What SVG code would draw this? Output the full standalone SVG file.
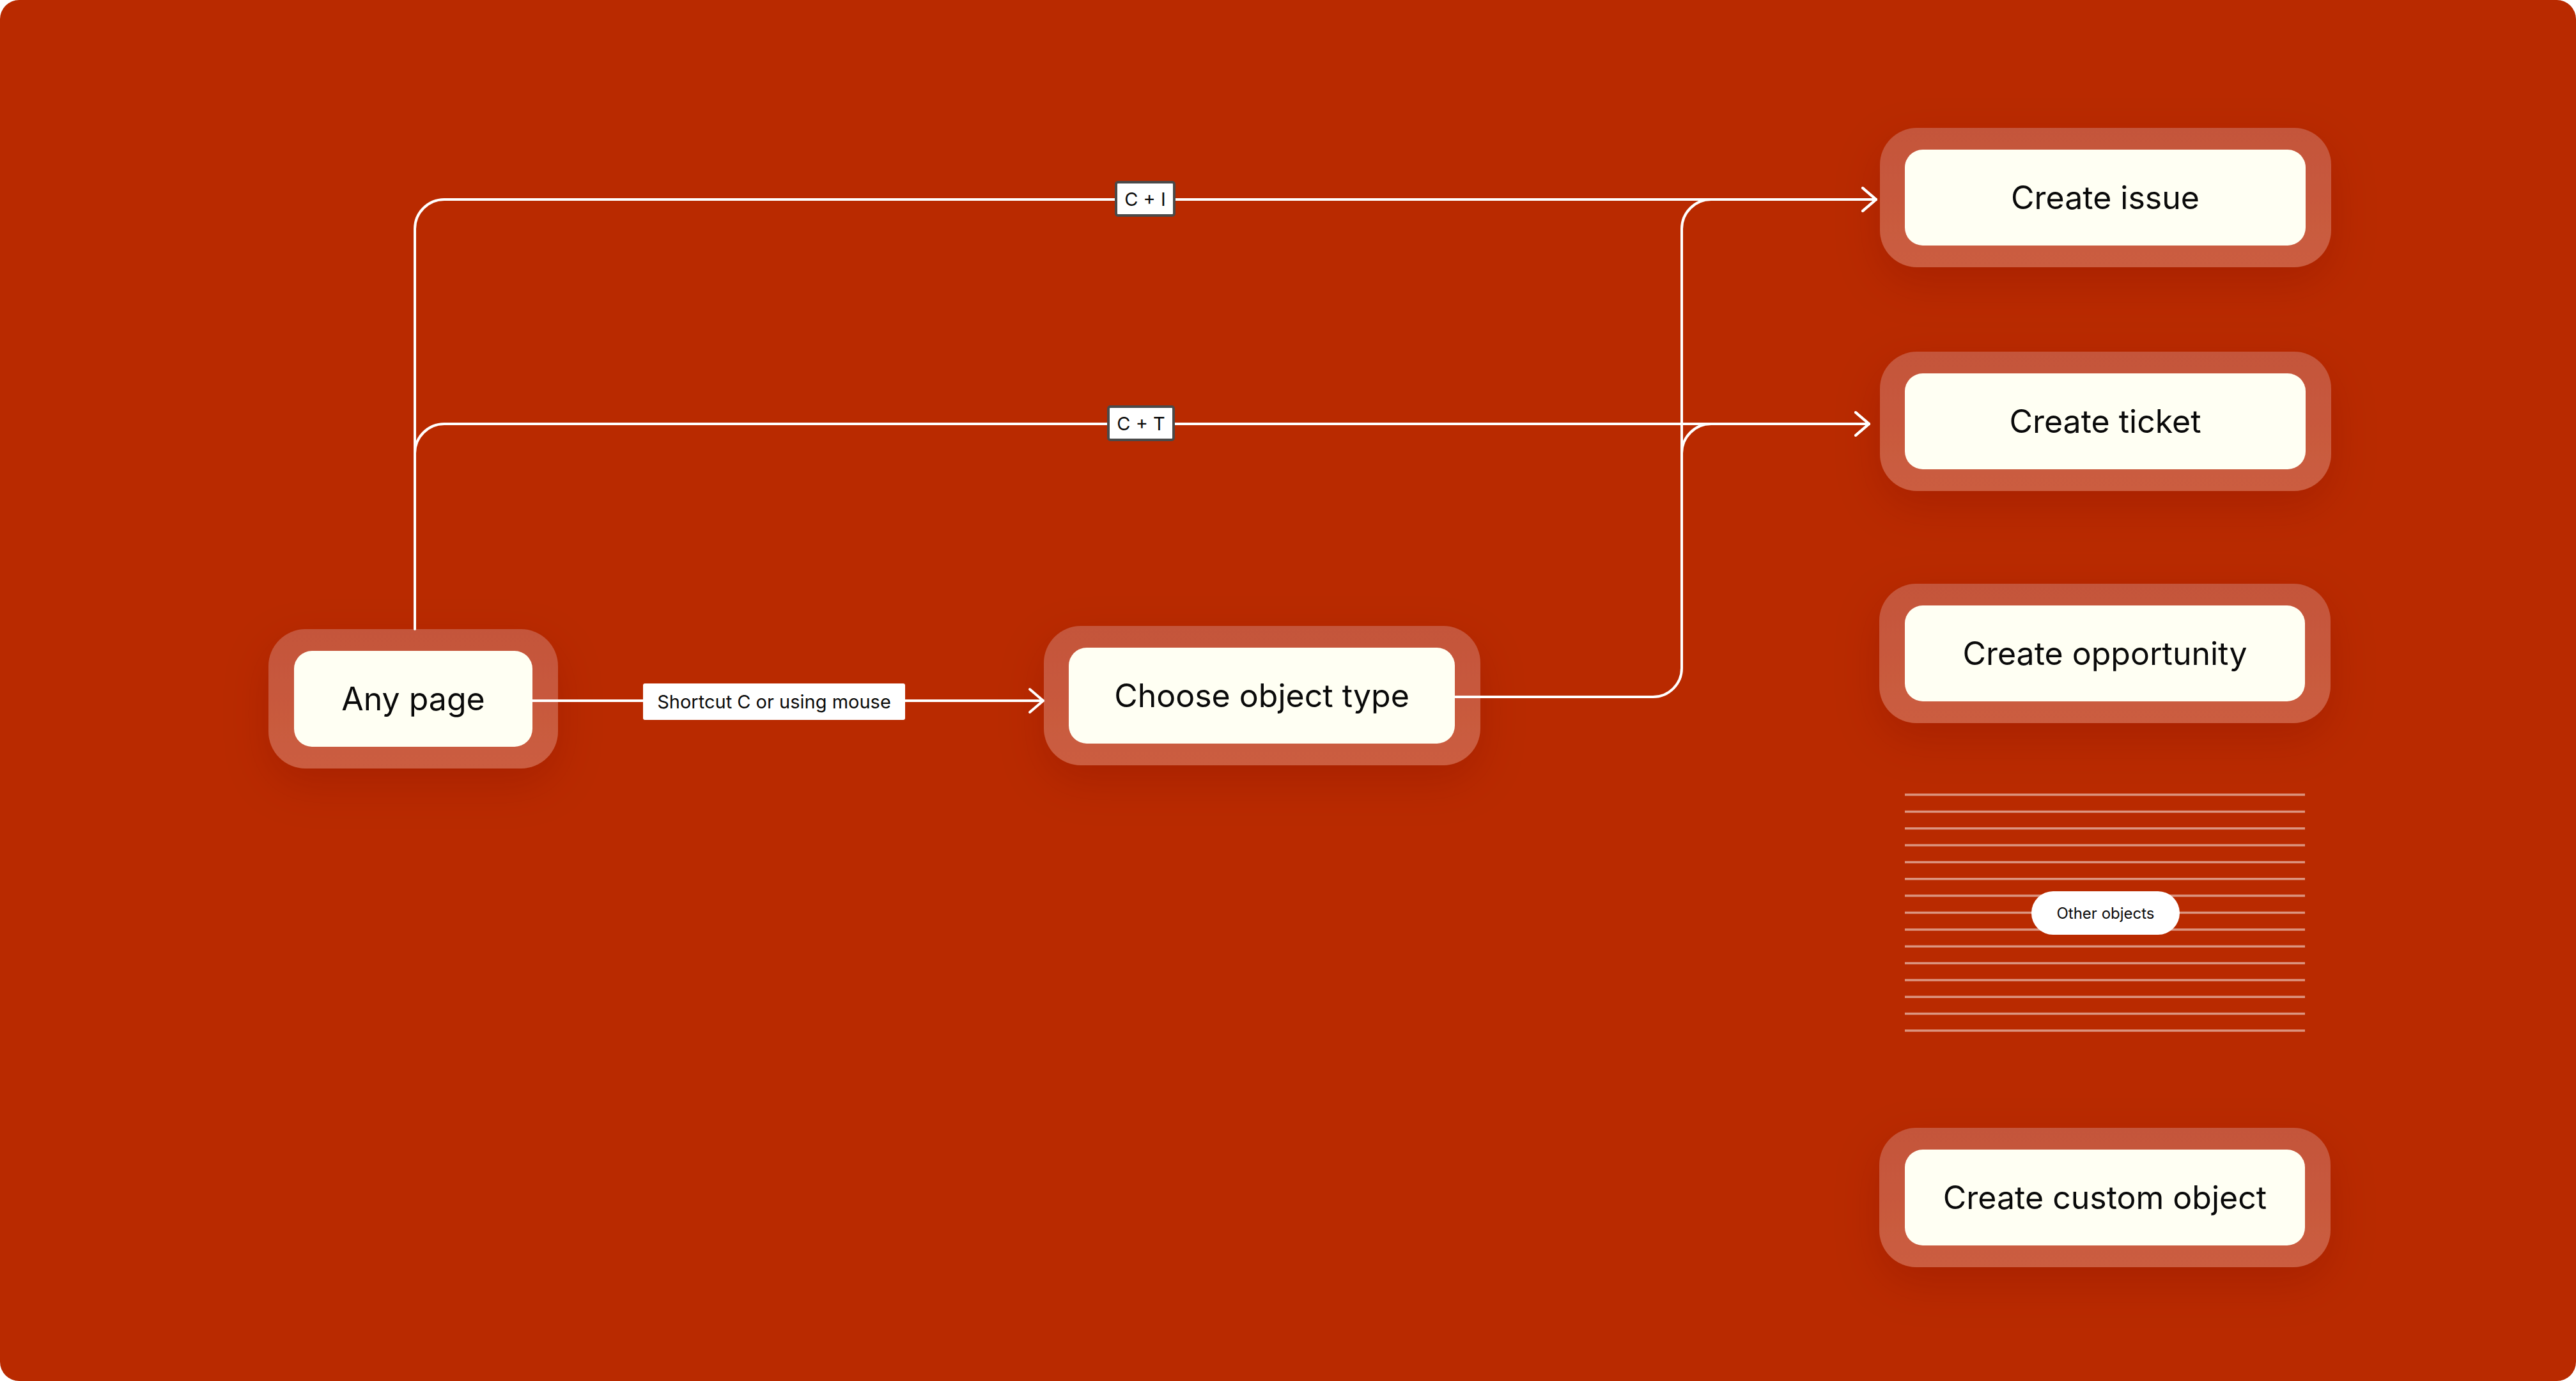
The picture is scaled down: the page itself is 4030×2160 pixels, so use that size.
<svg xmlns="http://www.w3.org/2000/svg" width="4030" height="2160" viewBox="0 0 4030 2160">
<style>
.node-text{font-family:Inter,"Noto Sans","Liberation Sans",sans-serif;font-size:50px;fill:#0a0a0a;text-anchor:middle;dominant-baseline:central}
.lbl{font-family:Inter,"Noto Sans","Liberation Sans",sans-serif;font-size:29px;fill:#0a0a0a;text-anchor:middle;dominant-baseline:central}
.small{font-family:Inter,"Noto Sans","Liberation Sans",sans-serif;font-size:24px;fill:#0a0a0a;text-anchor:middle;dominant-baseline:central}
.outer{fill:url(#og);filter:url(#sh)}
.inner{fill:#FFFFF3}
.edge{fill:none;stroke:#fff;stroke-width:4;stroke-linecap:round;stroke-linejoin:round}
.key{fill:#fff;stroke:#4a4a4a;stroke-width:4}
.stripe{stroke:#fff;stroke-opacity:0.5;stroke-width:3.5}
</style>
<defs>
<linearGradient id="og" x1="0" y1="0" x2="0" y2="1">
<stop offset="0" stop-color="#C4553A"/>
<stop offset="1" stop-color="#CB5D40"/>
</linearGradient>
<filter id="sh" x="-30%" y="-40%" width="160%" height="200%">
<feDropShadow dx="0" dy="24" stdDeviation="34" flood-color="#6a1200" flood-opacity="0.22"/>
</filter>
<marker id="arr" markerUnits="userSpaceOnUse" markerWidth="50" markerHeight="50" viewBox="-30 -25 40 50" refX="0" refY="0" orient="auto">
<path d="M-21,-18 L0,0 L-21,18" fill="none" stroke="#fff" stroke-width="4" stroke-linecap="round" stroke-linejoin="round"/>
</marker>
</defs>
<rect x="0" y="0" width="4030" height="2160" fill="#ffffff"/>
<rect x="0" y="0" width="4030" height="2160" rx="30" fill="#B92A00"/>

<g id="node-any-page">
<rect class="outer" x="420" y="984" width="453" height="218" rx="58"/>
<rect class="inner" x="460" y="1018" width="373" height="150" rx="28"/>
<text class="node-text" x="646.5" y="1093">Any page</text>
</g>

<g id="node-choose">
<rect class="outer" x="1633" y="979" width="683" height="218" rx="58"/>
<rect class="inner" x="1672" y="1013" width="604" height="150" rx="28"/>
<text class="node-text" x="1974" y="1088">Choose object type</text>
</g>

<g id="node-issue">
<rect class="outer" x="2941" y="200" width="706" height="218" rx="58"/>
<rect class="inner" x="2980" y="234" width="627" height="150" rx="28"/>
<text class="node-text" x="3293.5" y="309">Create issue</text>
</g>

<g id="node-ticket">
<rect class="outer" x="2941" y="550" width="706" height="218" rx="58"/>
<rect class="inner" x="2980" y="584" width="627" height="150" rx="28"/>
<text class="node-text" x="3293.5" y="659">Create ticket</text>
</g>

<g id="node-opportunity">
<rect class="outer" x="2940" y="913" width="706" height="218" rx="58"/>
<rect class="inner" x="2980" y="947" width="626" height="150" rx="28"/>
<text class="node-text" x="3293" y="1022">Create opportunity</text>
</g>

<g id="node-other">
<line class="stripe" x1="2980" y1="1243" x2="3606" y2="1243"/>
<line class="stripe" x1="2980" y1="1269.4" x2="3606" y2="1269.4"/>
<line class="stripe" x1="2980" y1="1295.7" x2="3606" y2="1295.7"/>
<line class="stripe" x1="2980" y1="1322.1" x2="3606" y2="1322.1"/>
<line class="stripe" x1="2980" y1="1348.4" x2="3606" y2="1348.4"/>
<line class="stripe" x1="2980" y1="1374.8" x2="3606" y2="1374.8"/>
<line class="stripe" x1="2980" y1="1401.1" x2="3606" y2="1401.1"/>
<line class="stripe" x1="2980" y1="1427.5" x2="3606" y2="1427.5"/>
<line class="stripe" x1="2980" y1="1453.9" x2="3606" y2="1453.9"/>
<line class="stripe" x1="2980" y1="1480.2" x2="3606" y2="1480.2"/>
<line class="stripe" x1="2980" y1="1506.6" x2="3606" y2="1506.6"/>
<line class="stripe" x1="2980" y1="1532.9" x2="3606" y2="1532.9"/>
<line class="stripe" x1="2980" y1="1559.3" x2="3606" y2="1559.3"/>
<line class="stripe" x1="2980" y1="1585.6" x2="3606" y2="1585.6"/>
<line class="stripe" x1="2980" y1="1612" x2="3606" y2="1612"/>
<rect x="3178" y="1394" width="232" height="68" rx="34" fill="#fff"/>
<text class="small" x="3294" y="1428">Other objects</text>
</g>

<g id="node-custom">
<rect class="outer" x="2940" y="1764" width="706" height="218" rx="58"/>
<rect class="inner" x="2980" y="1798" width="626" height="150" rx="28"/>
<text class="node-text" x="3293" y="1873">Create custom object</text>
</g>

<g id="connectors">
<path class="edge" d="M833 1096 H1632" marker-end="url(#arr)"/>
<path class="edge" d="M649 984 V358 A46 46 0 0 1 695 312 H2935" marker-end="url(#arr)"/>
<path class="edge" d="M649 709 A46 46 0 0 1 695 663 H2924" marker-end="url(#arr)"/>
<path class="edge" d="M2277 1090 H2586 A45 45 0 0 0 2631 1045 V358 A46 46 0 0 1 2677 312 H2935" marker-end="url(#arr)"/>
<path class="edge" d="M2631 709 A46 46 0 0 1 2677 663 H2924" marker-end="url(#arr)"/>
<g id="label-shortcut">
<rect x="1006" y="1069" width="410" height="57" rx="3" fill="#fff"/>
<text class="lbl" x="1211" y="1097">Shortcut C or using mouse</text>
</g>
<g id="label-ci">
<rect class="key" x="1746" y="285" width="91" height="52" rx="3"/>
<text class="lbl" x="1791.5" y="311">C + I</text>
</g>
<g id="label-ct">
<rect class="key" x="1734" y="636" width="102" height="52" rx="3"/>
<text class="lbl" x="1785" y="662">C + T</text>
</g>
</g>
</svg>
